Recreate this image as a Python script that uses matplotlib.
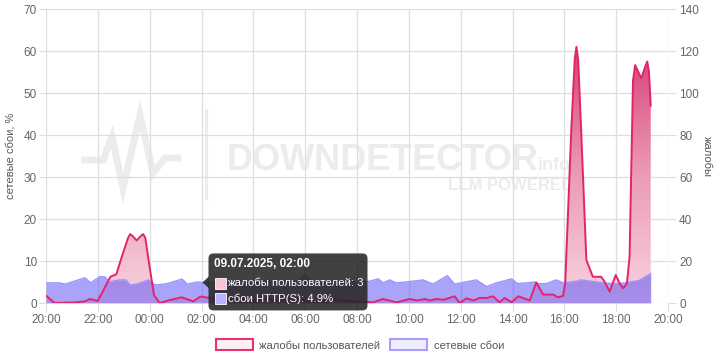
import matplotlib
matplotlib.use("Agg")
import matplotlib.pyplot as plt
import numpy as np
from matplotlib.colors import LinearSegmentedColormap
from matplotlib.lines import Line2D
from matplotlib.patches import FancyBboxPatch, PathPatch, Patch, Polygon, Rectangle
from matplotlib.transforms import IdentityTransform

plt.rcParams["font.family"] = ["Liberation Sans", "DejaVu Sans"]

# user complaints (count), right axis
complaint_times = [
    "20:00", "20:20", "21:10", "21:30", "21:42", "22:00", "22:29", "22:43", "22:56",
    "23:10", "23:15", "23:20", "23:30", "23:40", "23:45", "23:50", "00:00", "00:10",
    "00:23", "00:47", "01:14", "01:41", "01:57", "02:00", "02:30", "03:00", "03:30",
    "04:00", "04:30", "05:00", "05:30", "06:00", "06:30", "07:00", "07:30", "08:07",
    "08:37", "09:00", "09:32", "10:02", "10:20", "10:37", "10:48", "11:04", "11:20",
    "11:46", "11:58", "12:13", "12:30", "12:44", "13:00", "13:15", "13:30", "13:42",
    "13:58", "14:13", "14:40", "14:55", "15:11", "15:34", "15:45", "15:57", "16:02",
    "16:16", "16:24", "16:28", "16:32", "16:39", "16:51", "17:06", "17:25", "17:33",
    "17:45", "17:59", "18:08", "18:16", "18:25", "18:31", "18:39", "18:44", "18:58",
    "19:08", "19:12", "19:16", "19:20",
]
complaints = [
    3.5, 0, 0.3, 0.8, 1.9, 1.0, 12.5, 13.7, 22.4,
    31.0, 32.8, 32.0, 29.8, 32.0, 32.8, 31.0, 17, 3.8,
    0, 1.4, 2.7, 0.8, 3, 3, 2.0, 1.2, 2.5,
    0.8, 2.0, 1.0, 2.2, 1.5, 0.5, 2.0, 1.0, 0.8,
    0.3, 1.9, 0.3, 1.9, 1.2, 1.9, 1.2, 1.9, 1.5,
    3.2, 0, 2.2, 1.2, 2.4, 2.4, 3.2, 0.3, 2.4,
    0.3, 3.2, 1.2, 9.8, 4.0, 4.0, 2.7, 3.4, 9.4,
    82, 116, 122, 116, 82, 20.5, 12.5, 12.5, 10.2,
    5.4, 13.3, 9.4, 7.0, 9.4, 22, 106, 113.3, 107,
    113, 115, 110, 94,
]

# network failures (%), left axis
network_times = [
    "20:00", "20:30", "20:45", "21:00", "21:30", "21:43", "22:05", "22:17", "22:25",
    "22:50", "23:05", "23:15", "23:30", "23:57", "00:13", "00:40", "01:15", "01:27",
    "01:50", "02:00", "02:30", "03:00", "03:30", "04:00", "04:30", "05:00", "05:40",
    "06:00", "06:20", "07:00", "07:30", "08:00", "08:30", "08:49", "09:00", "09:16",
    "09:30", "09:54", "10:33", "10:56", "11:29", "11:46", "12:36", "13:00", "13:23",
    "13:58", "14:12", "14:52", "15:00", "15:18", "15:41", "15:57", "16:30", "16:38",
    "17:00", "17:30", "17:56", "18:23", "18:54", "19:10", "19:20",
]
network = [
    4.8, 4.8, 4.5, 5.0, 6.0, 4.8, 6.3, 6.2, 5.0,
    5.5, 5.5, 4.3, 4.5, 5.5, 4.3, 4.6, 5.7, 4.5,
    5.0, 4.9, 5.0, 4.7, 5.2, 4.8, 5.3, 4.9, 5.1,
    6.7, 4.9, 5.1, 5.3, 4.9, 5.2, 5.75, 4.8, 5.5,
    4.8, 5.0, 5.5, 4.5, 6.5, 4.5, 5.5, 3.9, 4.8,
    5.75, 4.6, 5.0, 4.6, 4.6, 5.5, 4.8, 5.2, 5.5,
    5.2, 4.8, 4.6, 4.8, 5.4, 6.4, 7.0,
]

tick_labels = ["20:00", "22:00", "00:00", "02:00", "04:00", "06:00", "08:00",
               "10:00", "12:00", "14:00", "16:00", "18:00", "20:00"]

tooltip_time = "02:00"
tooltip_title = "09.07.2025, 02:00"
tooltip_complaints = 3
tooltip_network = 4.9


def to_hours(t):
    hh, mm = map(int, t.split(":"))
    h = hh + mm / 60
    return h - 20 if h >= 20 else h + 4


hc = np.array([to_hours(t) for t in complaint_times])
cc = np.array(complaints, dtype=float)
hn = np.array([to_hours(t) for t in network_times])
nn = np.array(network, dtype=float)

PINK = "#e2246a"
BLUE_LINE = "#9d92ff"
BLUE_FILL = "#5a50f5"
TXT = "#666666"
GRID = "#dedede"

fig = plt.figure(figsize=(7.2, 3.6), dpi=100)
pos = [46 / 720, 57 / 360, 622 / 720, 294 / 360]

# complaints axis (right ticks) - gradient fill
ax = fig.add_axes(pos)
ax.set_axisbelow(True)
for s in ax.spines.values():
    s.set_visible(False)

# watermark
wm = "#ebecee"
ax.text(227 / 720, 1 - 170 / 360, "DOWNDETECTOR", transform=fig.transFigure, fontsize=26,
        fontweight="bold", color=wm, ha="left", va="baseline", zorder=0.1)
ax.text(538 / 720, 1 - 170 / 360, "info", transform=fig.transFigure, fontsize=13,
        fontweight="bold", color=wm, ha="left", va="baseline", zorder=0.1)
ax.text(573 / 720, 1 - 190 / 360, "LLM POWERED", transform=fig.transFigure, fontsize=12,
        fontweight="bold", color=wm, ha="right", va="baseline", zorder=0.1)
logo_x = np.array([85, 103, 112, 123, 140, 153, 165, 178]) / 720
logo_y = 1 - np.array([160, 160, 137, 188, 115, 173, 158, 158]) / 360
ax.add_line(Line2D(logo_x, logo_y, transform=fig.transFigure, color=wm, lw=5,
                   solid_joinstyle="miter", zorder=0.1))
ax.add_line(Line2D([206 / 720, 206 / 720], [1 - 110 / 360, 1 - 198 / 360],
                   transform=fig.transFigure, color=wm, lw=2.2, zorder=0.1))

cmap = LinearSegmentedColormap.from_list("pk", ["#f8d3df", "#eb9ab6", "#d83a74"])
grad = np.linspace(0, 1, 256).reshape(-1, 1)
im = ax.imshow(grad, extent=[0, 24, 0, 125], origin="lower", aspect="auto", cmap=cmap,
               zorder=2, interpolation="bilinear")
poly = ax.fill_between(hc, cc, 0, facecolor="none", edgecolor="none")
clip = PathPatch(poly.get_paths()[0], transform=ax.transData, facecolor="none", edgecolor="none")
ax.add_patch(clip)
im.set_clip_path(clip)

# network axis (left ticks)
ax2 = ax.twinx()
for s in ax2.spines.values():
    s.set_visible(False)
ax2.fill_between(hn, nn, 0, color=BLUE_FILL, alpha=0.52, lw=0, zorder=2)
ax2.plot(hn, nn, color=BLUE_LINE, lw=1.0, zorder=3)

# complaints line on top
ax3 = ax.twinx()
for s in ax3.spines.values():
    s.set_visible(False)
ax3.plot(hc, cc, color=PINK, lw=1.4, zorder=3, solid_joinstyle="round")

for a in (ax, ax2, ax3):
    a.set_xlim(0, 24)
ax.set_ylim(0, 140)
ax3.set_ylim(0, 140)
ax2.set_ylim(0, 70)

ax.yaxis.tick_right()
ax.set_yticks(np.arange(0, 141, 20))
ax.set_xticks(np.arange(0, 25, 2))
ax.set_xticklabels(tick_labels)
ax.grid(True, color=GRID, lw=0.9)
ax.tick_params(axis="y", colors=GRID, labelcolor=TXT, labelsize=8.5, length=6, pad=2)
ax.tick_params(axis="x", colors=GRID, labelcolor=TXT, labelsize=8.5, length=6, pad=2)

ax2.yaxis.tick_left()
ax2.set_yticks(np.arange(0, 71, 10))
ax2.tick_params(axis="y", colors=GRID, labelcolor=TXT, labelsize=8.5, length=5, pad=1.5)
ax3.set_yticks([])

fig.text(11 / 720, 1 - 156 / 360, "сетевые сбои, %", rotation=90, ha="center", va="center",
         fontsize=8, color="#555555")
fig.text(707 / 720, 1 - 156 / 360, "жалобы", rotation=270, ha="center", va="center",
         fontsize=8, color="#555555")

# tooltip anchored at the 02:00 network point
axp, ayp = ax2.transData.transform((to_hours(tooltip_time), tooltip_network))
tip_bg = "#262626"
box = FancyBboxPatch((axp + 7, ayp - 28), 159, 57, boxstyle="round,pad=0,rounding_size=5",
                     transform=IdentityTransform(), facecolor=tip_bg, edgecolor="none",
                     alpha=0.88, zorder=10)
fig.patches.append(box)
tri = Polygon([(axp + 1, ayp), (axp + 7.5, ayp + 6), (axp + 7.5, ayp - 6)], closed=True,
              transform=IdentityTransform(), facecolor=tip_bg, edgecolor="none", alpha=0.88,
              zorder=10)
fig.patches.append(tri)
ffx = fig.transFigure.inverted()


def fpos(px, py):
    return ffx.transform((px, py))


x0, y0 = fpos(axp + 13, ayp + 18)
fig.text(x0, y0, tooltip_title, color="white", fontsize=8.5, fontweight="bold",
         ha="left", va="center", zorder=11)
for dy, fc, label in [(-1, "#f9c3d6", f"жалобы пользователей: {tooltip_complaints}"),
                      (-16, "#b9b2ff", f"сбои HTTP(S): {tooltip_network}%")]:
    sq = Rectangle((axp + 13, ayp + dy - 5.5), 11, 11, transform=IdentityTransform(),
                   facecolor=fc, edgecolor="white", lw=0.6, zorder=11)
    fig.patches.append(sq)
    tx, ty = fpos(axp + 26, ayp + dy)
    fig.text(tx, ty, label, color="white", fontsize=8.2, ha="left", va="center", zorder=11)

handles = [Patch(facecolor="#fdf0f5", edgecolor="#e8336f", lw=1.5, label="жалобы пользователей"),
           Patch(facecolor="#efeeff", edgecolor="#a89dff", lw=1.5, label="сетевые сбои")]
fig.legend(handles=handles, loc="center", bbox_to_anchor=(0.5, 1 - 345 / 360), ncol=2,
           frameon=False, fontsize=8, handlelength=3.3, handleheight=1.1,
           handletextpad=0.6, columnspacing=0.9, labelcolor="#555555")

fig.savefig("out.png", dpi=100)
